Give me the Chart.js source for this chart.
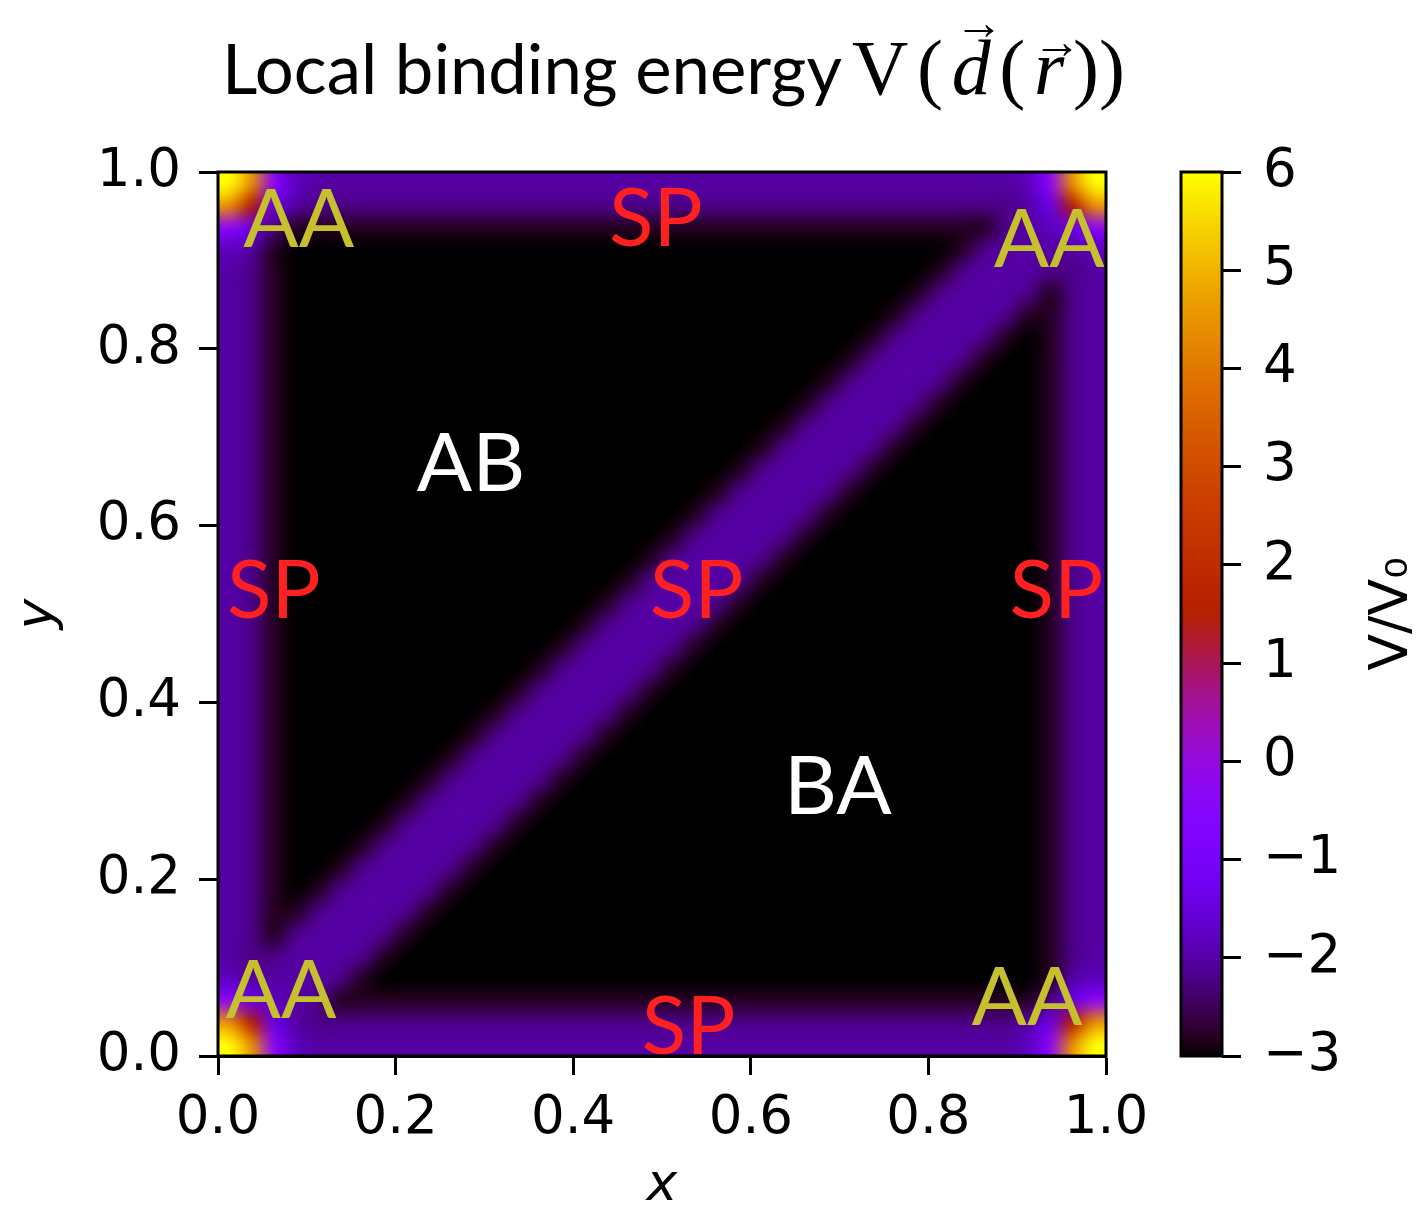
<!DOCTYPE html>
<html>
<head>
<meta charset="utf-8">
<script src="https://cdn.jsdelivr.net/npm/chart.js@4.4.1/dist/chart.umd.min.js"></script>
<style>
  html, body { margin: 0; padding: 0; background: #ffffff; }
  #wrap { position: relative; width: 1419px; height: 1212px; background: #ffffff; }
  #wrap canvas { position: absolute; left: 0; top: 0; }
</style>
</head>
<body>
<div id="wrap">
  <canvas id="mapCanvas" width="1419" height="1212"></canvas>
  <canvas id="barCanvas" width="1419" height="1212"></canvas>
</div>
<script>
// ---------------------------------------------------------------------------
// Local binding energy V/V0 over the unit cell, sampled on a 40 x 40 grid.
// Row 0 is the top of the map (y close to 1), column 0 the left side (x close to 0).
// Every character is a level code; levelValues holds the V/V0 value of each code.
// Each row is written as four blocks of ten columns.
// ---------------------------------------------------------------------------
const levelCodes  = ['0', '1', '2', '3', '4', '5', '6', '7', '8', '9', 'A', 'B', 'C', 'D', 'E', 'F'];
const levelValues = [-3.0, -2.8, -2.5, -2.2, -2.0, -1.8, -1.4, -0.9, -0.3, 0.5, 1.5, 2.5, 3.5, 4.5, 5.5, 6.0];

const fieldRows = [
  ["FD85444444", "4444444444", "4444444444", "44444458DF"],
  ["DA64333333", "3333333333", "3333333333", "33333346AD"],
  ["8631111111", "1111111111", "1111111111", "1111134568"],
  ["5410000000", "0000000000", "0000000000", "0001344445"],
  ["4310000000", "0000000000", "0000000000", "0013444334"],
  ["4310000000", "0000000000", "0000000000", "0134443134"],
  ["4310000000", "0000000000", "0000000000", "1344431134"],
  ["4310000000", "0000000000", "0000000001", "3444310134"],
  ["4310000000", "0000000000", "0000000013", "4443100134"],
  ["4310000000", "0000000000", "0000000134", "4431000134"],
  ["4310000000", "0000000000", "0000001344", "4310000134"],
  ["4310000000", "0000000000", "0000013444", "3100000134"],
  ["4310000000", "0000000000", "0000134443", "1000000134"],
  ["4310000000", "0000000000", "0001344431", "0000000134"],
  ["4310000000", "0000000000", "0013444310", "0000000134"],
  ["4310000000", "0000000000", "0134443100", "0000000134"],
  ["4310000000", "0000000000", "1344431000", "0000000134"],
  ["4310000000", "0000000001", "3444310000", "0000000134"],
  ["4310000000", "0000000013", "4443100000", "0000000134"],
  ["4310000000", "0000000134", "4431000000", "0000000134"],
  ["4310000000", "0000001344", "4310000000", "0000000134"],
  ["4310000000", "0000013444", "3100000000", "0000000134"],
  ["4310000000", "0000134443", "1000000000", "0000000134"],
  ["4310000000", "0001344431", "0000000000", "0000000134"],
  ["4310000000", "0013444310", "0000000000", "0000000134"],
  ["4310000000", "0134443100", "0000000000", "0000000134"],
  ["4310000000", "1344431000", "0000000000", "0000000134"],
  ["4310000001", "3444310000", "0000000000", "0000000134"],
  ["4310000013", "4443100000", "0000000000", "0000000134"],
  ["4310000134", "4431000000", "0000000000", "0000000134"],
  ["4310001344", "4310000000", "0000000000", "0000000134"],
  ["4310013444", "3100000000", "0000000000", "0000000134"],
  ["4310134443", "1000000000", "0000000000", "0000000134"],
  ["4311344431", "0000000000", "0000000000", "0000000134"],
  ["4313444310", "0000000000", "0000000000", "0000000134"],
  ["4334443100", "0000000000", "0000000000", "0000000134"],
  ["5444431000", "0000000000", "0000000000", "0000000145"],
  ["8654311111", "1111111111", "1111111111", "1111111368"],
  ["DA64333333", "3333333333", "3333333333", "33333346AD"],
  ["FD85444444", "4444444444", "4444444444", "44444458DF"]
];

// extent of the sampled cell in x and y
const gridXRange = [0, 1];
const gridYRange = [0, 1];

// axis ticks
const xTickValues = [0, 0.2, 0.4, 0.6, 0.8, 1.0];
const yTickValues = [0, 0.2, 0.4, 0.6, 0.8, 1.0];
const colorTickValues = [-3, -2, -1, 0, 1, 2, 3, 4, 5, 6];
const colorRange = [-3, 6];

// stacking labels placed in the map (x, y in cell coordinates)
const siteNames = ['AA', 'SP', 'AA', 'AB', 'SP', 'SP', 'SP', 'BA', 'AA', 'SP', 'AA'];
const siteX     = [0.091, 0.493, 0.936, 0.285, 0.063, 0.539, 0.944, 0.698, 0.071, 0.530, 0.911];
const siteY     = [0.948, 0.950, 0.926, 0.672, 0.529, 0.529, 0.529, 0.307, 0.076, 0.036, 0.068];

// text
const titleWords = 'Local binding energy';
const titleFormula = [
  { text: 'V',  italic: false, arrow: false },
  { text: '(',  italic: false, arrow: false },
  { text: 'd',  italic: true,  arrow: true, tall: true },
  { text: '(',  italic: false, arrow: false },
  { text: 'r',  italic: true,  arrow: true, tall: false },
  { text: '))', italic: false, arrow: false }
];
const xTitle = 'x';
const yTitle = 'y';
const colorTitle = 'V/V\u2080';

// ---------------------------------------------------------------------------
// styles
// ---------------------------------------------------------------------------
const siteColors = { AA: '#c6bf2e', SP: '#ff2121', AB: '#ffffff', BA: '#ffffff' };
const tickFont = { family: 'DejaVu Sans', size: 53 };
const inkColor = '#000000';
const frameWidth = 3;

// gnuplot colour map: r = sqrt(t), g = t^3, b = sin(2*pi*t)
function gnuplotRGB(value) {
  let t = (value - colorRange[0]) / (colorRange[1] - colorRange[0]);
  t = Math.min(1, Math.max(0, t));
  const r = Math.sqrt(t);
  const g = t * t * t;
  const b = Math.max(0, Math.sin(2 * Math.PI * t));
  return [Math.round(r * 255), Math.round(g * 255), Math.round(b * 255)];
}

function decodeRows() {
  return fieldRows.map((blocks, i) => {
    const row = blocks.join('');
    if (row.length !== 40) throw new Error('row ' + i + ' has ' + row.length + ' columns');
    return Array.from(row).map(ch => {
      const k = levelCodes.indexOf(ch);
      if (k < 0) throw new Error('unknown level code ' + ch + ' in row ' + i);
      return levelValues[k];
    });
  });
}
const fieldValues = decodeRows();

function formatTick(v) {
  return v.toFixed(1);
}
function formatColorTick(v) {
  return v < 0 ? '\u2212' + String(-v) : String(v);
}

// draws the sampled field as an image spanning the cell extent on the chart scales
const fieldImagePlugin = {
  id: 'fieldImage',
  beforeDatasetsDraw(chart) {
    const { ctx, scales: { x, y } } = chart;
    const nRows = fieldValues.length;
    const nCols = fieldValues[0].length;
    const tile = document.createElement('canvas');
    tile.width = nCols;
    tile.height = nRows;
    const tctx = tile.getContext('2d');
    const img = tctx.createImageData(nCols, nRows);
    for (let r = 0; r < nRows; r++) {
      for (let c = 0; c < nCols; c++) {
        const [R, G, B] = gnuplotRGB(fieldValues[r][c]);
        const o = (r * nCols + c) * 4;
        img.data[o] = R; img.data[o + 1] = G; img.data[o + 2] = B; img.data[o + 3] = 255;
      }
    }
    tctx.putImageData(img, 0, 0);
    const left = x.getPixelForValue(gridXRange[0]);
    const right = x.getPixelForValue(gridXRange[1]);
    const top = y.getPixelForValue(gridYRange[1]);
    const bottom = y.getPixelForValue(gridYRange[0]);
    ctx.save();
    ctx.imageSmoothingEnabled = true;
    ctx.imageSmoothingQuality = 'high';
    ctx.drawImage(tile, left, top, right - left, bottom - top);
    ctx.restore();
  },
  afterDatasetsDraw(chart) {
    const { ctx, scales: { x, y } } = chart;
    ctx.save();
    const size = 82;
    ctx.font = size + 'px Lato';
    ctx.textAlign = 'center';
    ctx.textBaseline = 'alphabetic';
    siteNames.forEach((name, i) => {
      ctx.fillStyle = siteColors[name];
      ctx.fillText(name, x.getPixelForValue(siteX[i]), y.getPixelForValue(siteY[i]) + size * 0.36);
    });
    ctx.restore();
  },
  afterDraw(chart) {
    const { ctx, chartArea: a } = chart;
    ctx.save();
    // frame round the map
    ctx.strokeStyle = inkColor;
    ctx.lineWidth = frameWidth;
    ctx.strokeRect(a.left, a.top, a.right - a.left, a.bottom - a.top);

    // title: words, then the formula V(d(r)) with vector arrows
    ctx.fillStyle = inkColor;
    ctx.textAlign = 'left';
    ctx.textBaseline = 'alphabetic';
    const baseY = 94;
    ctx.font = '100px Lato';
    const wordSize = 100 * 620 / ctx.measureText(titleWords).width;
    ctx.font = wordSize.toFixed(2) + 'px Lato';
    ctx.fillText(titleWords, 222, baseY);

    const ms = 78;
    const mathFont = (s, it) => (it ? 'italic ' : '') + s.toFixed(2) + 'px "Liberation Serif"';
    let total = 0;
    titleFormula.forEach(p => { ctx.font = mathFont(ms, p.italic); total += ctx.measureText(p.text).width; });
    const gap = (273 - total) / (titleFormula.length - 1);
    let cx = 852;
    titleFormula.forEach(p => {
      ctx.font = mathFont(ms, p.italic);
      const w = ctx.measureText(p.text).width;
      ctx.fillText(p.text, cx, baseY);
      if (p.arrow) {
        const as = ms * 0.62;
        ctx.font = mathFont(as, false);
        const aw = ctx.measureText('\u2192').width;
        const top = p.tall ? baseY - 0.70 * ms : baseY - 0.46 * ms;
        const centerY = top - 0.16 * ms;
        ctx.fillText('\u2192', cx + w / 2 + ms * 0.10 - aw / 2, centerY + 0.25 * as);
      }
      cx += w + gap;
    });
    ctx.restore();
  }
};

const mapChart = new Chart(document.getElementById('mapCanvas'), {
  type: 'scatter',
  data: { datasets: [] },
  plugins: [fieldImagePlugin],
  options: {
    responsive: false,
    animation: false,
    events: [],
    layout: { padding: { left: 0, right: 313, top: 172, bottom: 0 } },
    plugins: { legend: { display: false }, tooltip: { enabled: false }, title: { display: false } },
    scales: {
      x: {
        type: 'linear', position: 'bottom', min: 0, max: 1,
        afterFit(scale) { scale.height = 156; },
        afterBuildTicks(scale) { scale.ticks = xTickValues.map(v => ({ value: v })); },
        grid: { drawOnChartArea: false, drawTicks: true, tickLength: 19, tickWidth: frameWidth, tickColor: inkColor },
        border: { display: true, color: inkColor, width: frameWidth },
        ticks: { font: tickFont, color: inkColor, padding: 12, maxRotation: 0, autoSkip: false, callback: formatTick },
        title: { display: true, text: xTitle, color: inkColor,
                 font: { family: 'DejaVu Sans', size: 52, style: 'italic', lineHeight: 1 },
                 padding: { top: 0, bottom: 0 } }
      },
      y: {
        type: 'linear', position: 'left', min: 0, max: 1,
        afterFit(scale) { scale.width = 218; },
        afterBuildTicks(scale) { scale.ticks = yTickValues.map(v => ({ value: v })); },
        grid: { drawOnChartArea: false, drawTicks: true, tickLength: 19, tickWidth: frameWidth, tickColor: inkColor },
        border: { display: true, color: inkColor, width: frameWidth },
        ticks: { font: tickFont, color: inkColor, padding: 18, autoSkip: false, callback: formatTick },
        title: { display: true, text: yTitle, color: inkColor,
                 font: { family: 'DejaVu Sans', size: 52, style: 'italic', lineHeight: 1 },
                 padding: { top: 12, bottom: 0 } }
      }
    }
  }
});

// colour bar: gradient drawn against its own value scale
const colorBarPlugin = {
  id: 'colorBar',
  beforeDatasetsDraw(chart) {
    const { ctx, chartArea: a, scales: { y } } = chart;
    const y0 = y.getPixelForValue(colorRange[0]);
    const y1 = y.getPixelForValue(colorRange[1]);
    const grad = ctx.createLinearGradient(0, y0, 0, y1);
    const steps = 64;
    for (let i = 0; i <= steps; i++) {
      const v = colorRange[0] + (colorRange[1] - colorRange[0]) * i / steps;
      const [R, G, B] = gnuplotRGB(v);
      grad.addColorStop(i / steps, 'rgb(' + R + ',' + G + ',' + B + ')');
    }
    ctx.save();
    ctx.fillStyle = grad;
    ctx.fillRect(a.left, y1, a.right - a.left, y0 - y1);
    ctx.strokeStyle = inkColor;
    ctx.lineWidth = frameWidth;
    ctx.strokeRect(a.left, y1, a.right - a.left, y0 - y1);
    ctx.restore();
  },
  afterDraw(chart) {
    const { ctx, chartArea: a } = chart;
    ctx.save();
    ctx.translate(1393, (a.top + a.bottom) / 2);
    ctx.rotate(-Math.PI / 2);
    ctx.fillStyle = inkColor;
    ctx.font = '54px "DejaVu Sans"';
    ctx.textAlign = 'center';
    ctx.textBaseline = 'middle';
    ctx.fillText(colorTitle, 0, 0);
    ctx.restore();
  }
};

const barChart = new Chart(document.getElementById('barCanvas'), {
  type: 'scatter',
  data: { datasets: [] },
  plugins: [colorBarPlugin],
  options: {
    responsive: false,
    animation: false,
    events: [],
    layout: { padding: { left: 1181, right: 47, top: 172, bottom: 156 } },
    plugins: { legend: { display: false }, tooltip: { enabled: false }, title: { display: false } },
    scales: {
      x: { type: 'linear', display: false, min: 0, max: 1 },
      y: {
        type: 'linear', position: 'right', min: colorRange[0], max: colorRange[1],
        afterFit(scale) { scale.width = 150; },
        afterBuildTicks(scale) { scale.ticks = colorTickValues.map(v => ({ value: v })); },
        grid: { drawOnChartArea: false, drawTicks: true, tickLength: 19, tickWidth: frameWidth, tickColor: inkColor },
        border: { display: false },
        ticks: { font: tickFont, color: inkColor, padding: 22, autoSkip: false, callback: formatColorTick }
      }
    }
  }
});
</script>
</body>
</html>
